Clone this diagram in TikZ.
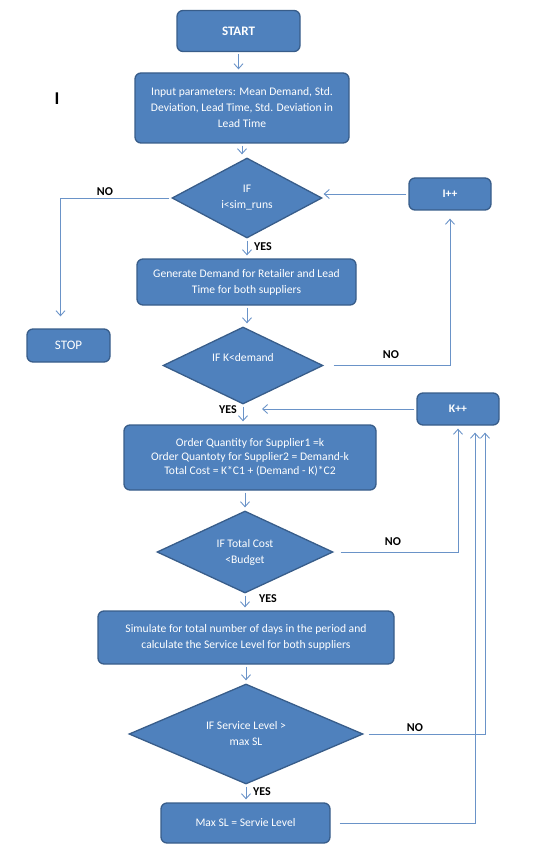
\documentclass[tikz,border=0pt]{standalone}
\usepackage{fontspec}
\setmainfont{Carlito}
\usetikzlibrary{shapes.geometric,arrows.meta}
\definecolor{boxfill}{HTML}{4F81BD}
\definecolor{boxline}{HTML}{385D8A}
\definecolor{flowline}{HTML}{6A93C8}
\tikzset{
  stepbox/.style={rectangle, rounded corners=6pt, draw=boxline, line width=1.3pt,
    fill=boxfill, text=white, align=center, inner sep=0pt,
    font=\fontsize{11.6}{16}\selectfont},
  decision/.style={diamond, aspect=2, draw=boxline, line width=1.3pt,
    fill=boxfill, text=white, align=center, inner sep=0pt,
    font=\fontsize{11.6}{16}\selectfont},
  flow/.style={draw=flowline, line width=0.9pt, shorten <=2pt, shorten >=3pt,
    -{Straight Barb[length=5pt,width=9pt]}},
  answer/.style={font=\fontsize{12}{14}\selectfont\bfseries, text=black}
}
\begin{document}
\begin{tikzpicture}[x=1pt,y=-1pt]
  \useasboundingbox (0,0) rectangle (545,850);
  \node[stepbox, minimum width=123pt, minimum height=41pt,
    font=\fontsize{13}{15}\selectfont\bfseries] (start) at (238.5,31) {START};
  \node[stepbox, minimum width=214pt, minimum height=70pt] (input) at (242,108)
    {Input parameters: Mean Demand, Std.\\Deviation, Lead Time, Std. Deviation in\\Lead Time};
  \node[decision, minimum width=150pt, minimum height=80pt] (runs) at (247,198)
    {IF\\i<sim\_runs};
  \node[stepbox, minimum width=82pt, minimum height=32pt,
    font=\fontsize{11.6}{14}\selectfont\bfseries] (iplus) at (450,194) {I++};
  \node[stepbox, minimum width=219pt, minimum height=46pt] (generate) at (246.5,282)
    {Generate Demand for Retailer and Lead\\Time for both suppliers};
  \node[stepbox, minimum width=83pt, minimum height=33pt,
    font=\fontsize{13}{15}\selectfont] (stop) at (68.5,345.5) {STOP};
  \node[decision, minimum width=160pt, minimum height=77pt] (demand) at (243,365.5)
    {IF K<demand\\\mbox{}};
  \node[stepbox, minimum width=82pt, minimum height=32pt,
    font=\fontsize{11.6}{14}\selectfont\bfseries] (kplus) at (458,409) {K++};
  \node[stepbox, minimum width=252pt, minimum height=65pt] (order) at (250,457.5)
    {Order Quantity for Supplier1 =k\\[-2pt]Order Quantoty for Supplier2 = Demand-k\\[-2pt]Total Cost = K*C1 + (Demand - K)*C2};
  \node[decision, minimum width=176pt, minimum height=82pt] (budget) at (245,552)
    {IF Total Cost\\<Budget};
  \node[stepbox, minimum width=296pt, minimum height=53pt] (simulate) at (246,637.5)
    {Simulate for total number of days in the period and\\calculate the Service Level for both suppliers};
  \node[decision, minimum width=234pt, minimum height=100pt] (service) at (246,734)
    {IF Service Level >\\max SL};
  \node[stepbox, minimum width=169pt, minimum height=40pt] (maxsl) at (245.5,823)
    {Max SL = Servie Level};
  \node[font=\fontsize{18}{18}\selectfont\bfseries] (mark) at (57,99) {I};
  \coordinate (kin) at (262,409);

  \begin{scope}[flow]
    \draw (start.south) -- (start.south |- input.north);
    \draw (input.south) -- (input.south |- runs.north);
    \draw (runs.south) -- (runs.south |- generate.north);
    \draw[shorten >=12pt] (runs.west) -| ([xshift=-8pt]stop.north);
    \draw (runs.north |- generate.south) -- (runs.north |- demand.north);
    \draw (demand.south) -- (demand.south |- order.north);
    \draw[shorten <=10pt, shorten >=8pt] (demand.east) -| (iplus.south);
    \draw[shorten >=1pt] (iplus.west) -- (iplus.west -| runs.east);
    \draw[shorten >=0pt] (kplus.west) -- (kin);
    \draw (budget.north |- order.south) -- (budget.north);
    \draw (budget.south) -- (budget.south |- simulate.north);
    \draw[shorten <=7pt] (budget.east) -| (kplus.south);
    \draw (simulate.south) -- (service.north);
    \draw (service.south) -- (service.south |- maxsl.north);
    \draw[shorten <=5pt, shorten >=7pt] (service.east) -| ([xshift=27pt]kplus.south);
    \draw[shorten <=9pt, shorten >=7pt] (maxsl.east) -| ([xshift=17pt]kplus.south);
  \end{scope}

  \node[answer] (no1) at (105,192) {NO};
  \node[answer] (yes1) at (263,247) {YES};
  \node[answer] (no2) at (391,355) {NO};
  \node[answer] (yes2) at (228,410) {YES};
  \node[answer] (no3) at (393,542) {NO};
  \node[answer] (yes3) at (268,599) {YES};
  \node[answer] (no4) at (415,728) {NO};
  \node[answer] (yes4) at (262,792) {YES};
\end{tikzpicture}
\end{document}
